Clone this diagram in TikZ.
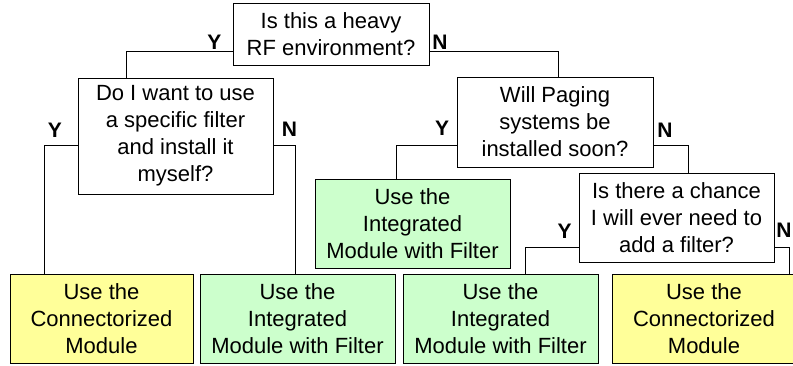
\documentclass[tikz,border=0pt]{standalone}
\usepackage{fontspec}
\setmainfont{Liberation Sans}
\definecolor{yelbox}{HTML}{FFFF99}
\definecolor{grnbox}{HTML}{CCFFCC}
\tikzset{
  qbox/.style={draw, fill=white, align=center, inner sep=0pt, minimum width=195pt, minimum height=90pt, font=\fontsize{22}{27}\selectfont},
  abox/.style={qbox, minimum height=89pt},
  yn/.style={inner sep=0pt, font=\bfseries\fontsize{21}{21}\selectfont}
}
\begin{document}
\begin{tikzpicture}[x=1pt, y=-1pt, line width=1pt]
\useasboundingbox (0,0) rectangle (793,365);

\node [qbox, minimum width=196pt, minimum height=62pt] (q1) at (331,34) {Is this a heavy\\RF environment?};
\node [qbox, minimum height=116pt] (q2) at (175.5,136) {Do I want to use\\a specific filter\\and install it\\myself?};
\node [qbox, minimum width=196pt] (q3) at (555,122) {Will Paging\\systems be\\installed soon?};
\node [qbox, minimum height=89pt] (q4) at (676.5,217.5) {Is there a chance\\I will ever need to\\add a filter?};

\node [abox, fill=grnbox] (g1) at (412.5,224) {Use the\\Integrated\\Module with Filter};

\node [abox, fill=yelbox, minimum width=183pt] (b1) at (101.5,318.5) {Use the\\Connectorized\\Module};
\node [abox, fill=grnbox] (b2) at (297.5,318.5) {Use the\\Integrated\\Module with Filter};
\node [abox, fill=grnbox] (b3) at (500.5,318.5) {Use the\\Integrated\\Module with Filter};
\node [abox, fill=yelbox, minimum width=183pt] (b4) at (704,318.5) {Use the\\Connectorized\\Module};

% yes / no branches
\draw ([yshift=-17pt]q1.west) -| ([xshift=-49.5pt]q2.north);
\draw ([yshift=-17pt]q1.east) -| ([xshift=3pt]q3.north);
\draw ([yshift=-9pt]q2.west) -| ([xshift=-57.5pt]b1.north);
\draw ([yshift=-9pt]q2.east) -| ([xshift=-2.5pt]b2.north);
\draw ([yshift=-23pt]q3.west) -| ([xshift=-16.5pt]g1.north);
\draw ([yshift=-23pt]q3.east) -| ([xshift=11.5pt]q4.north);
\draw ([yshift=-29.5pt]q4.west) -| ([xshift=24.5pt]b3.north);
\draw ([yshift=-29.5pt]q4.east) -| ([xshift=85pt]b4.north);

\node [yn] (y1) at (214.5,42) {Y};
\node [yn] (n1) at (440,42) {N};
\node [yn] (y2) at (55,130) {Y};
\node [yn] (n2) at (289.5,129.5) {N};
\node [yn] (y3) at (442,128.5) {Y};
\node [yn] (n3) at (665,130) {N};
\node [yn] (y4) at (564.5,231) {Y};
\node [yn] (n4) at (784,230) {N};

\end{tikzpicture}
\end{document}
